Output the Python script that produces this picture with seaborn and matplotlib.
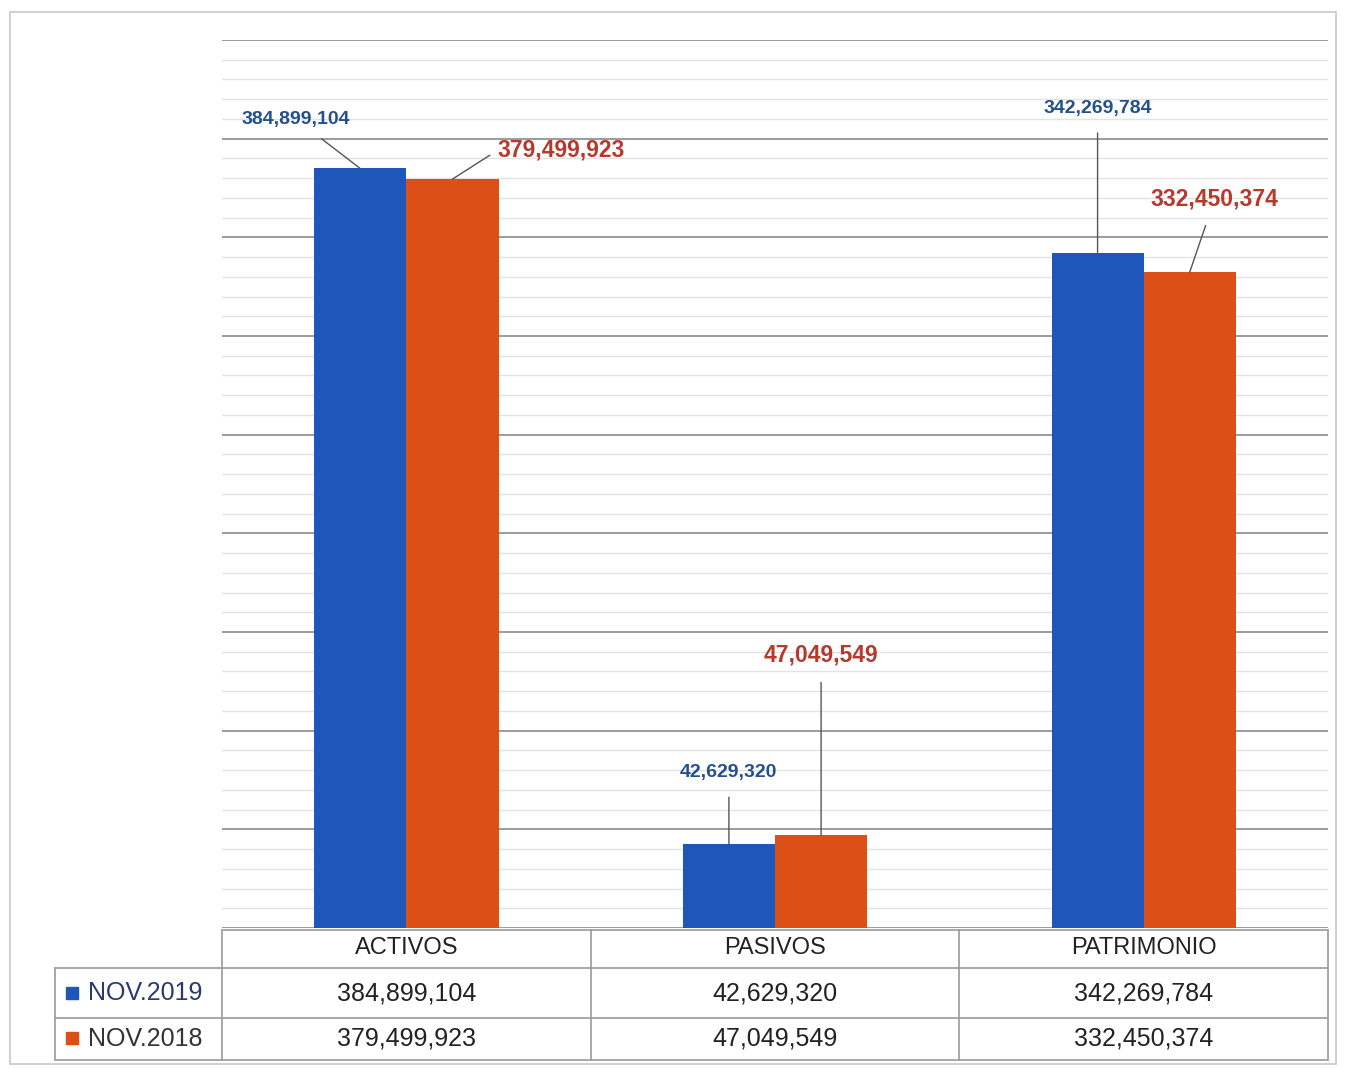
import seaborn as sns
import pandas as pd
import matplotlib.pyplot as plt
from matplotlib.patches import Rectangle
from matplotlib.lines import Line2D
import numpy as np

categories = ["ACTIVOS", "PASIVOS", "PATRIMONIO"]
series = ["NOV.2019", "NOV.2018"]
vals_2019 = [384899104, 42629320, 342269784]
vals_2018 = [379499923, 47049549, 332450374]

blue = "#1f56b9"
orange = "#dc4f17"
blue_txt = "#24508f"
red_txt = "#b5392c"
grid_major = "#8a8a8a"
grid_minor = "#e3e3e3"

df = pd.DataFrame({
    "cat": categories * 2,
    "serie": [series[0]] * 3 + [series[1]] * 3,
    "valor": vals_2019 + vals_2018,
})

sns.set_theme(style="white")
plt.rcParams["font.family"] = ["Liberation Sans", "DejaVu Sans"]

W, H = 1346, 1068
fig = plt.figure(figsize=(W / 100, H / 100), dpi=100)

def box(x0, y0, x1, y1):
    # pixel box -> figure fraction
    return [x0 / W, 1 - y1 / H, (x1 - x0) / W, (y1 - y0) / H]

ax = fig.add_axes(box(222, 40, 1328, 928))
sns.barplot(data=df, x="cat", y="valor", hue="serie", order=categories,
            hue_order=series, palette=[blue, orange], width=0.5, gap=0,
            saturation=1, edgecolor="none", legend=False, ax=ax)
ax.set_xlim(-0.5, 2.5)
ax.set_ylim(0, 450e6)
ax.set_yticks(np.arange(0, 450e6 + 1, 50e6))
ax.set_yticks(np.arange(0, 450e6 + 1, 10e6), minor=True)
ax.grid(which="minor", axis="y", color=grid_minor, lw=1)
ax.grid(which="major", axis="y", color=grid_major, lw=1.2)
ax.set_axisbelow(True)
ax.tick_params(left=False, bottom=False, which="both", labelleft=False, labelbottom=False)
for s in ax.spines.values():
    s.set_visible(False)
ax.set_xlabel("")
ax.set_ylabel("")

# data labels with leader lines (offsets in pixels)
offsets = {
    (0, 0): (-64, 49), (0, 1): (109, 29),
    (1, 0): (0, 71), (1, 1): (0, 180),
    (2, 0): (0, 144), (2, 1): (25, 73),
}
for h, cont in enumerate(ax.containers):
    col = blue_txt if h == 0 else red_txt
    fs = 14 if h == 0 else 16.5
    for i, bar in enumerate(cont):
        x = bar.get_x() + bar.get_width() / 2
        y = bar.get_height()
        dx, dy = offsets[(i, h)]
        arrow = dict(arrowstyle="-", color="#555555", lw=1, shrinkA=9, shrinkB=0)
        if (i, h) == (0, 1):
            arrow.update(relpos=(0, 0.5), shrinkA=4)
        ax.annotate(f"{int(y):,}", xy=(x, y), xytext=(dx, dy),
                    textcoords="offset pixels", ha="center", va="center",
                    color=col, fontsize=fs, fontweight="bold",
                    arrowprops=arrow)

# data table below the chart
tab = fig.add_axes(box(222, 930, 1328, 1060))
tab.set_xlim(-0.5, 2.5)
tab.set_ylim(0, 1)
tab.axis("off")
line_kw = dict(color="#9a9a9a", lw=1.2, clip_on=False)
left_x = -0.5 - (222 - 55) / 368.7
tab.add_line(Line2D([-0.5, 2.5], [1, 1], **line_kw))
tab.add_line(Line2D([left_x, 2.5], [0.708, 0.708], **line_kw))
tab.add_line(Line2D([left_x, 2.5], [0.323, 0.323], **line_kw))
tab.add_line(Line2D([left_x, 2.5], [0, 0], **line_kw))
for xv in [-0.5, 0.5, 1.5, 2.5]:
    tab.add_line(Line2D([xv, xv], [0, 1], **line_kw))
tab.add_line(Line2D([left_x, left_x], [0, 0.708], **line_kw))

for i, c in enumerate(categories):
    tab.text(i, 0.86, c, ha="center", va="center", fontsize=17, color="#222222")
    tab.text(i, 0.515, f"{vals_2019[i]:,}", ha="center", va="center", fontsize=18, color="#222222")
    tab.text(i, 0.165, f"{vals_2018[i]:,}", ha="center", va="center", fontsize=18, color="#222222")

sq_x = left_x + (66 - 55) / 368.7
for yy, name, col in [(0.515, series[0], blue), (0.165, series[1], orange)]:
    tab.add_patch(Rectangle((sq_x, yy - 0.045), 12 / 368.7, 0.095,
                            transform=tab.transData, color=col, clip_on=False))
    tab.text(sq_x + 22 / 368.7, yy, name, ha="left", va="center",
             fontsize=18, color="#2a3a6a" if col == blue else "#333333")

# outer chart border
fig.add_artist(Rectangle((10 / W, 1 - 1064 / H), 1326 / W, 1052 / H,
                         transform=fig.transFigure, fill=False,
                         edgecolor="#c8c8c8", lw=1.2))

fig.savefig("out.png", dpi=100)
